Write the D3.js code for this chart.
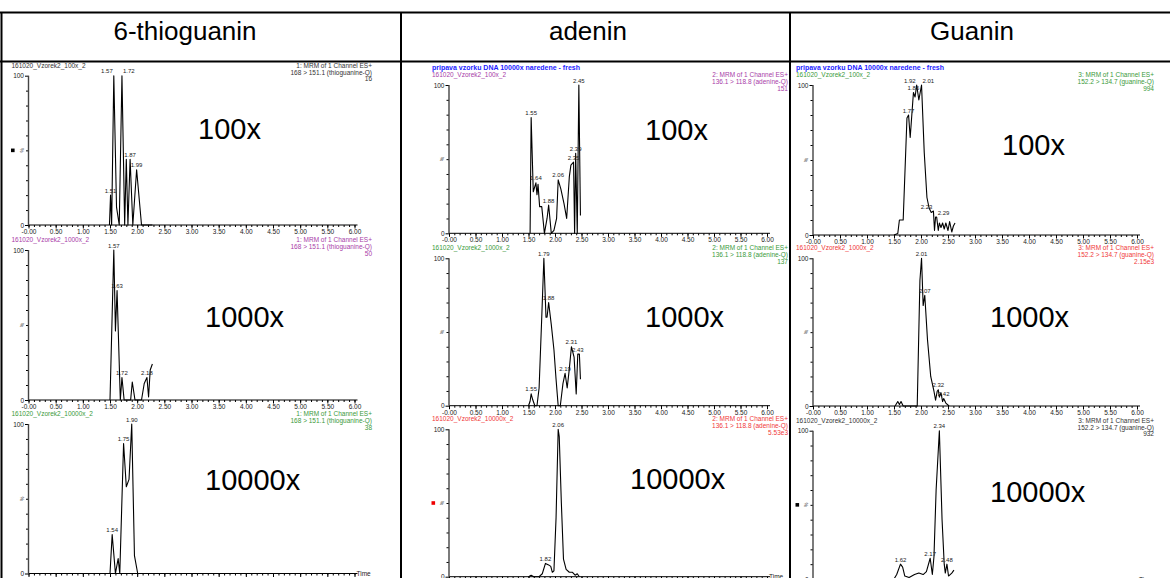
<!DOCTYPE html>
<html>
<head>
<meta charset="utf-8">
<script src="https://cdn.jsdelivr.net/npm/d3@7"></script>
<style>
body { margin: 0; background: #fff; }
svg { display: block; font-family: "Liberation Sans", Arial, sans-serif; }
</style>
</head>
<body>
<div id="chart"></div>
<script>
// ---- data ----
var compounds = ["6-thioguanin", "adenin", "Guanin"];
var dilutions = ["100x", "1000x", "10000x"];
var sampleNames = ["161020_Vzorek2_100x_2", "161020_Vzorek2_1000x_2", "161020_Vzorek2_10000x_2"];
var channelNames = ["1: MRM of 1 Channel ES+", "2: MRM of 1 Channel ES+", "3: MRM of 1 Channel ES+"];
var transitions = ["168 > 151.1 (thioguanine-Q)", "136.1 > 118.8 (adenine-Q)", "152.2 > 134.7 (guanine-Q)"];
var intensities = [["16", "50", "38"], ["151", "137", "5.53e3"], ["994", "2.15e3", "932"]];
var methodTitle = "pripava vzorku DNA 10000x naredene - fresh";

var xTickValues = [0, 0.5, 1, 1.5, 2, 2.5, 3, 3.5, 4, 4.5, 5, 5.5, 6];
var xTickLabels = ["-0.00", "0.50", "1.00", "1.50", "2.00", "2.50", "3.00", "3.50", "4.00", "4.50", "5.00", "5.50", "6.00"];
var yTickValues = [0, 100];

// [time (min), relative intensity %]
var thio100 = [[1.49,0],[1.51,20],[1.53,0],[1.57,100],[1.62,12],[1.67,0],[1.72,100],[1.77,0],[1.80,44],[1.83,0],[1.87,44],[1.92,0],[1.99,37],[2.08,0],[2.28,0]];
var thio1000 = [[1.50,0],[1.57,100],[1.60,46],[1.63,73],[1.69,0],[1.72,15],[1.76,0],[1.88,0],[1.91,12],[1.96,0],[2.08,0],[2.13,11],[2.18,15],[2.21,2],[2.24,20],[2.28,24]];
var thio10000 = [[1.50,0],[1.54,26],[1.60,0],[1.65,10],[1.68,0],[1.75,87],[1.80,58],[1.85,63],[1.90,100],[1.95,12],[2.01,0],[2.30,0]];
var aden100 = [[1.53,0],[1.55,78],[1.59,28],[1.64,34],[1.66,26],[1.68,33],[1.71,18],[1.75,18],[1.80,0],[1.85,10],[1.88,19],[1.93,0],[1.98,2],[2.03,10],[2.06,36],[2.11,30],[2.17,20],[2.22,10],[2.27,38],[2.30,46],[2.35,48],[2.37,0],[2.39,54],[2.42,0],[2.45,100],[2.48,12]];
var aden1000 = [[1.50,0],[1.53,3],[1.55,8],[1.58,4],[1.62,0],[1.66,0],[1.70,12],[1.75,60],[1.79,100],[1.83,60],[1.85,60],[1.88,70],[1.93,55],[1.98,38],[2.02,18],[2.06,0],[2.10,0],[2.15,15],[2.19,22],[2.23,12],[2.27,25],[2.31,40],[2.36,33],[2.40,8],[2.43,35],[2.46,35],[2.48,18]];
var aden10000 = [[1.50,0],[1.55,1],[1.60,0],[1.70,0],[1.76,2],[1.82,9],[1.88,8],[1.92,7],[1.95,3],[1.98,4],[2.02,40],[2.06,100],[2.08,95],[2.12,50],[2.16,12],[2.21,5],[2.27,3],[2.33,3],[2.38,1],[2.42,2],[2.46,0]];
var guan100 = [[1.50,0],[1.57,1],[1.60,10],[1.67,10],[1.74,78],[1.77,80],[1.80,65],[1.86,95],[1.89,92],[1.92,100],[1.96,90],[2.01,100],[2.06,55],[2.11,25],[2.15,18],[2.19,15],[2.23,16],[2.25,3],[2.27,12],[2.29,12],[2.32,3],[2.34,8],[2.37,5],[2.40,8],[2.43,4],[2.46,8],[2.50,3],[2.53,9],[2.57,2],[2.60,6],[2.63,8]];
var guan1000 = [[1.52,0],[1.57,3],[1.60,1],[1.63,3],[1.67,0],[1.93,0],[1.98,85],[2.01,100],[2.04,68],[2.07,75],[2.12,45],[2.18,20],[2.24,10],[2.27,4],[2.30,10],[2.32,11],[2.34,6],[2.37,9],[2.40,3],[2.42,5],[2.46,2],[2.52,0]];
var guan10000 = [[1.50,0],[1.55,3],[1.62,10],[1.66,8],[1.70,2],[1.78,1],[1.88,3],[1.96,4],[2.04,3],[2.10,5],[2.17,14],[2.21,3],[2.24,15],[2.28,60],[2.34,100],[2.39,40],[2.43,10],[2.45,4],[2.48,10],[2.51,2],[2.57,4],[2.61,6]];

// labelled peaks [time, %]
var thio100Peaks = [[1.51,20],[1.57,100],[1.72,100],[1.87,44],[1.99,37]];
var thio1000Peaks = [[1.57,100],[1.63,73],[1.72,15],[2.18,15]];
var thio10000Peaks = [[1.54,26],[1.75,87],[1.90,100]];
var aden100Peaks = [[1.55,78],[1.64,34],[1.88,19],[2.06,36],[2.35,48],[2.39,54],[2.45,100]];
var aden1000Peaks = [[1.55,8],[1.79,100],[1.88,70],[2.19,22],[2.31,40],[2.43,35]];
var aden10000Peaks = [[1.82,9],[2.06,100]];
var guan100Peaks = [[1.77,80],[1.86,95],[1.92,100],[2.01,100],[2.23,16],[2.29,12]];
var guan1000Peaks = [[2.01,100],[2.07,75],[2.32,11],[2.42,5]];
var guan10000Peaks = [[1.62,10],[2.17,14],[2.34,100],[2.48,10]];

var traces = [[thio100, thio1000, thio10000], [aden100, aden1000, aden10000], [guan100, guan1000, guan10000]];
var peaks = [[thio100Peaks, thio1000Peaks, thio10000Peaks], [aden100Peaks, aden1000Peaks, aden10000Peaks], [guan100Peaks, guan1000Peaks, guan10000Peaks]];

// ---- layout ----
var W = 1170, H = 578;
var purple = "#a83ca8", green = "#3a9a3a", red = "#f03838", dark = "#333";
var textColors = [[dark, purple, green], [purple, green, red], [green, red, dark]];
var markerColors = [["#000", null, null], [null, null, "#e00"], [null, null, "#000"]];

var cols = [
    {x0: 28.5, x6: 354.5, right: 372, head: 185, rows: [
        {y100: 75.7, y0: 225, lab: [198, 139]}, {y100: 250, y0: 400, lab: [205, 327]}, {y100: 424, y0: 573.5, lab: [205, 490]}]},
    {x0: 449, x6: 767, right: 788, head: 588, rows: [
        {y100: 85, y0: 233.3, lab: [645, 140]}, {y100: 258.3, y0: 405.7, lab: [645, 327]}, {y100: 429.3, y0: 576.7, lab: [630, 489]}]},
    {x0: 813, x6: 1137, right: 1154, head: 972, rows: [
        {y100: 85, y0: 235, lab: [1002, 155]}, {y100: 258.3, y0: 406, lab: [990, 327]}, {y100: 430.7, y0: 579, lab: [990, 502]}]}
];

var svg = d3.select("#chart").append("svg").attr("width", W).attr("height", H);

// table grid
svg.append("line").attr("x1", 0).attr("x2", W).attr("y1", 12.5).attr("y2", 12.5).attr("stroke", "#000").attr("stroke-width", 2);
svg.append("line").attr("x1", 0).attr("x2", W).attr("y1", 61.5).attr("y2", 61.5).attr("stroke", "#000").attr("stroke-width", 2);
[1.5, 401, 790].forEach(function (xv) {
    svg.append("line").attr("x1", xv).attr("x2", xv).attr("y1", 12).attr("y2", H).attr("stroke", "#000").attr("stroke-width", 2);
});

cols.forEach(function (L, c) {
    svg.append("text").attr("x", L.head).attr("y", 40).attr("text-anchor", "middle")
        .style("font-size", "26px").text(compounds[c]);

    L.rows.forEach(function (R, r) {
        var g = svg.append("g");
        var x = d3.scaleLinear().domain([0, 6]).range([L.x0, L.x6]);
        var y = d3.scaleLinear().domain([0, 100]).range([R.y0, R.y100]);
        var col = textColors[c][r];

        if (r === 0 && c > 0) {
            g.append("text").attr("x", L.x0 - 17).attr("y", R.y100 - 15)
                .style("font-size", "7px").style("font-weight", "bold").attr("fill", "#1c1cff").text(methodTitle);
        }
        g.append("text").attr("x", L.x0 - 17).attr("y", R.y100 - 8)
            .style("font-size", "6.5px").attr("fill", col).text(sampleNames[r]);
        [channelNames[c], transitions[c], intensities[c][r]].forEach(function (t, i) {
            g.append("text").attr("x", L.right).attr("y", R.y100 - 8 + i * 6.8).attr("text-anchor", "end")
                .style("font-size", "6.5px").attr("fill", col).text(t);
        });

        // x axis: minor then major ticks
        var minor = d3.range(0, 60.5, 1).map(function (d) { return d / 10; });
        var xa = g.append("g").attr("transform", "translate(0," + R.y0 + ")");
        xa.call(d3.axisBottom(x).tickValues(minor).tickSize(2).tickSizeOuter(0).tickFormat(""));
        xa.select(".domain").remove();
        var xb = g.append("g").attr("transform", "translate(0," + R.y0 + ")");
        xb.call(d3.axisBottom(x).tickValues(xTickValues).tickSize(3.5).tickPadding(1).tickSizeOuter(0)
            .tickFormat(function (d, i) { return xTickLabels[i]; }));
        xb.select(".domain").remove();
        xb.selectAll("text").attr("font-family", null).style("font-size", "6.5px").attr("fill", "#222");
        g.append("line").attr("x1", L.x0).attr("x2", L.x6 + 3).attr("y1", R.y0).attr("y2", R.y0)
            .attr("stroke", "#000").attr("stroke-width", 1);
        if (r === 2) {
            g.append("text").attr("x", L.x6 + 2).attr("y", R.y0 + 2.5).style("font-size", "6.5px").attr("fill", "#222").text("Time");
        }

        // y axis
        var ya = g.append("g").attr("transform", "translate(" + L.x0 + ",0)");
        ya.call(d3.axisLeft(y).tickValues(d3.range(10, 100, 10)).tickSize(2.5).tickSizeOuter(0).tickFormat(""));
        ya.select(".domain").remove();
        var yb = g.append("g").attr("transform", "translate(" + L.x0 + ",0)");
        yb.call(d3.axisLeft(y).tickValues(yTickValues).tickSize(3.5).tickPadding(1).tickSizeOuter(0).tickFormat(d3.format("d")));
        yb.select(".domain").remove();
        yb.selectAll("text").attr("font-family", null).style("font-size", "6.5px").attr("fill", "#222");
        g.append("line").attr("x1", L.x0).attr("x2", L.x0).attr("y1", R.y100).attr("y2", R.y0)
            .attr("stroke", "#444").attr("stroke-width", 1.4);
        g.append("text").attr("transform", "translate(" + (L.x0 - 5) + "," + y(50) + ") rotate(-90)")
            .attr("text-anchor", "middle").style("font-size", "5px").attr("fill", "#222").text("%");
        if (markerColors[c][r]) {
            g.append("rect").attr("x", L.x0 - 17.5).attr("y", y(50) - 1.8).attr("width", 3.6).attr("height", 3.6)
                .attr("fill", markerColors[c][r]);
        }

        // trace
        g.append("path").datum(traces[c][r])
            .attr("d", d3.line().x(function (d) { return x(d[0]); }).y(function (d) { return y(d[1]); }))
            .attr("fill", "none").attr("stroke", "#000").attr("stroke-width", 1.1).attr("stroke-linejoin", "round");

        // peak labels, nudged apart when they collide
        var labs = peaks[c][r].map(function (p) { return {px: x(p[0]), py: y(p[1]) - 2.5, t: p[0].toFixed(2), a: "middle"}; });
        for (var i = 1; i < labs.length; i++) {
            if (Math.abs(labs[i].px - labs[i - 1].px) < 14 && Math.abs(labs[i].py - labs[i - 1].py) < 7) {
                labs[i - 1].a = "end"; labs[i - 1].px -= 1;
                labs[i].a = "start"; labs[i].px += 1;
            }
        }
        g.selectAll(".pk").data(labs).enter().append("text")
            .attr("x", function (d) { return d.px; }).attr("y", function (d) { return d.py; })
            .attr("text-anchor", function (d) { return d.a; })
            .style("font-size", "6px").attr("fill", "#222").text(function (d) { return d.t; });

        // dilution label
        g.append("text").attr("x", R.lab[0]).attr("y", R.lab[1]).style("font-size", "29px").attr("fill", "#000").text(dilutions[r]);
    });
});
</script>
</body>
</html>
